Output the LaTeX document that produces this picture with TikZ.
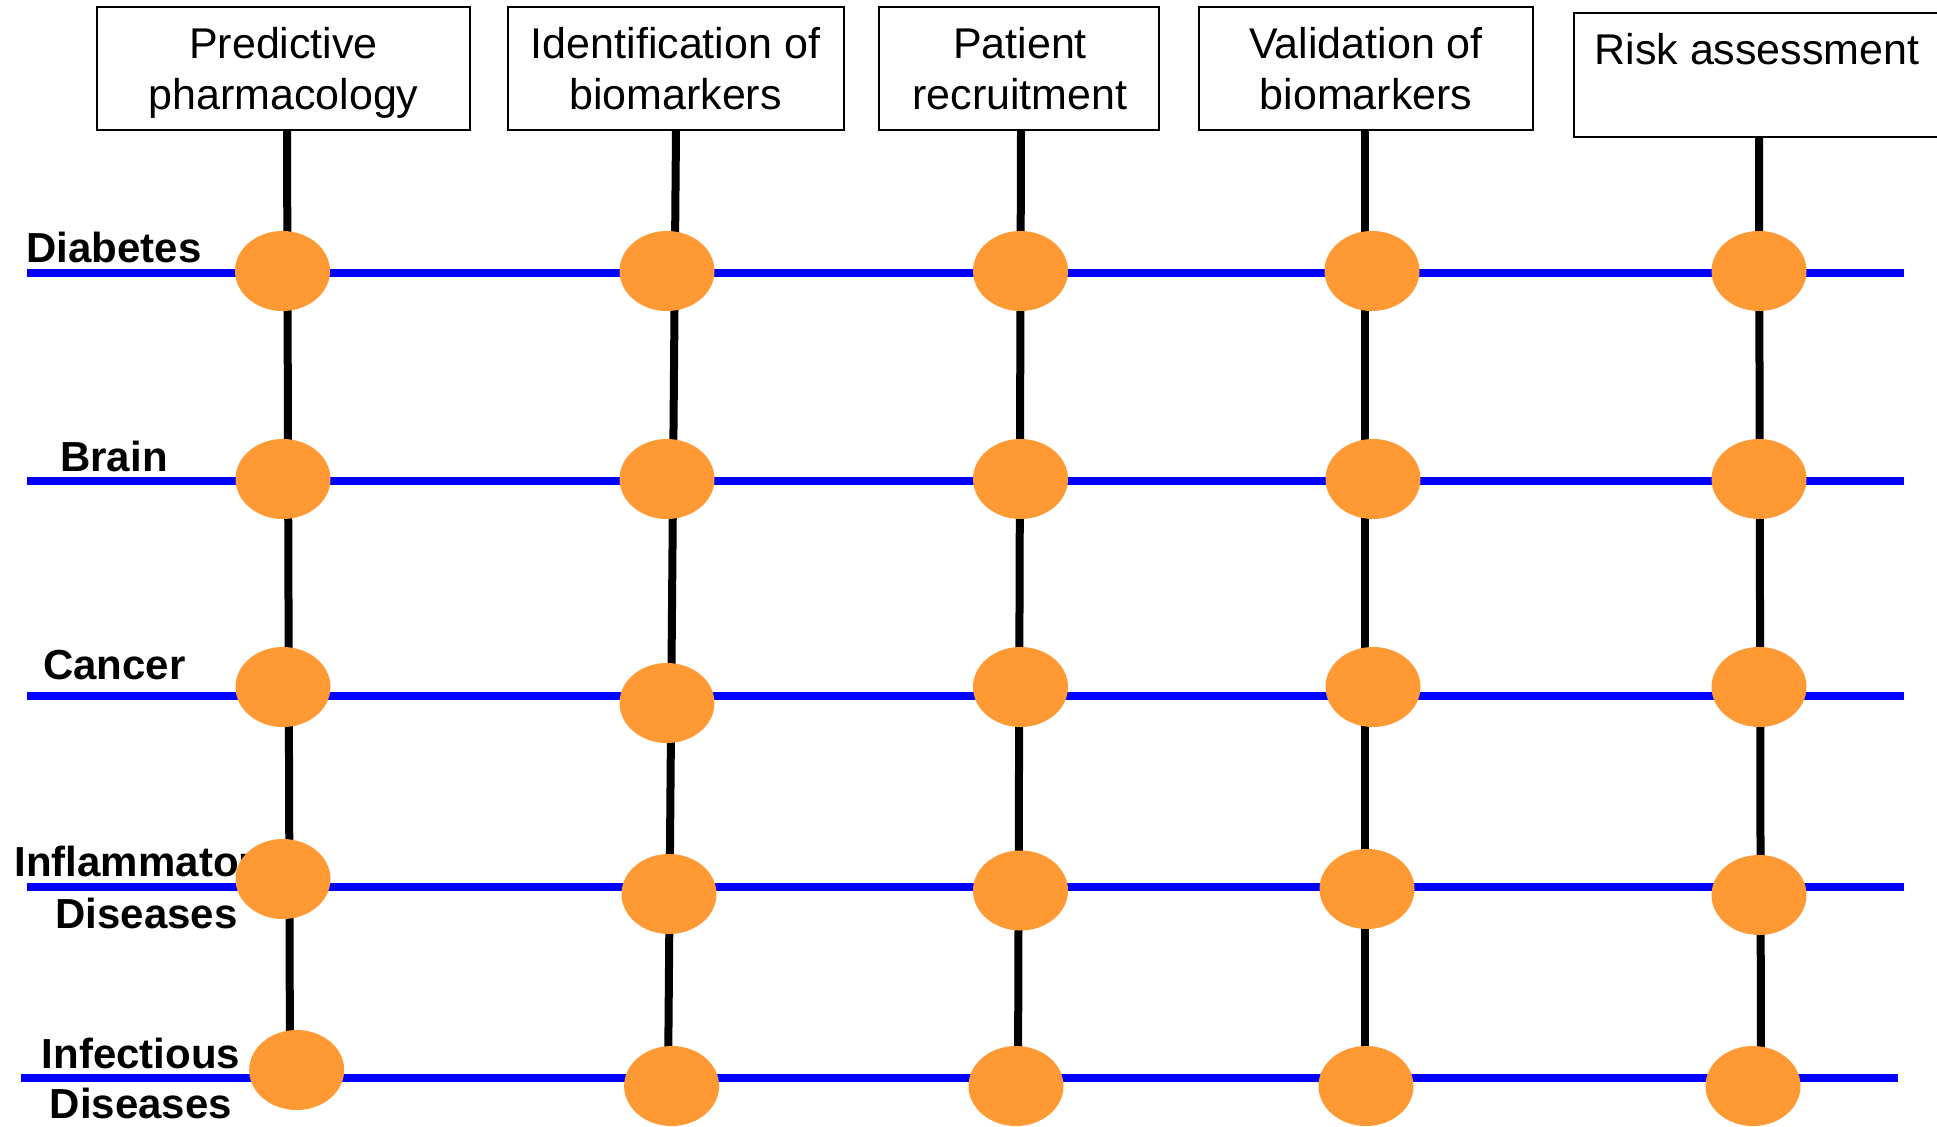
\documentclass[tikz,border=0pt]{standalone}
\usepackage{fontspec}
\usetikzlibrary{shapes.geometric}
\newfontfamily\boxfont{Liberation Sans}
\newfontfamily\labfont{Liberation Sans}
\definecolor{dotorange}{RGB}{255,153,51}
\definecolor{rowblue}{RGB}{0,0,255}
\begin{document}
\begin{tikzpicture}[x=0.5pt,y=-0.5pt,
  boxnode/.style={draw=black, line width=1pt, rectangle, inner sep=0pt, fill=white},
  boxtext/.style={font=\boxfont\fontsize{21.5pt}{25pt}\selectfont, anchor=base, inner sep=0pt},
  labtext/.style={font=\labfont\bfseries\fontsize{21pt}{25pt}\selectfont, anchor=base, inner sep=0pt},
  stage/.style={line width=4pt, draw=black},
  rowline/.style={line width=4pt, draw=rowblue},
  dot/.style={ellipse, fill=dotorange, draw=none, minimum width=47.5pt, minimum height=40pt, inner sep=0pt}]
\useasboundingbox (0,0) rectangle (1937,1127);
\clip (0,0) rectangle (1937,1127);
\fill[white] (0,0) rectangle (1937,1127);

% stage boxes
\node[boxnode, minimum width=186.5pt, minimum height=61.5pt] (b1) at (283.5,68.5) {};
\node[boxnode, minimum width=168pt, minimum height=61.5pt] (b2) at (675.5,68.5) {};
\node[boxnode, minimum width=140pt, minimum height=61.5pt] (b3) at (1018.5,68.5) {};
\node[boxnode, minimum width=167pt, minimum height=61.5pt] (b4) at (1366,68.5) {};
\node[boxnode, minimum width=185.5pt, minimum height=61.85pt] (b5) at (1759.5,75.3) {};

\node[boxtext] (b1t1) at (283.5,58.5) {Predictive};
\node[boxtext] (b1t2) at (283.5,110) {pharmacology};
\node[boxtext] (b2t1) at (675.5,58.5) {Identification of};
\node[boxtext] (b2t2) at (675.5,110) {biomarkers};
\node[boxtext] (b3t1) at (1020,58.5) {Patient};
\node[boxtext] (b3t2) at (1020,110) {recruitment};
\node[boxtext] (b4t1) at (1366,58.5) {Validation of};
\node[boxtext] (b4t2) at (1366,110) {biomarkers};
\node[boxtext] (b5t1) at (1757,64.5) {Risk assessment};

% vertical stage lines
\coordinate (s1a) at (287,130);  \coordinate (s1b) at (290,1070);
\coordinate (s2a) at (676,130);  \coordinate (s2b) at (668,1086);
\coordinate (s3a) at (1021,130); \coordinate (s3b) at (1018,1086);
\coordinate (s4a) at (1365,131); \coordinate (s4b) at (1365,1086);
\coordinate (s5a) at (1759,137); \coordinate (s5b) at (1761,1086);
\draw[stage] (s1a) -- (s1b);
\draw[stage] (s2a) -- (s2b);
\draw[stage] (s3a) -- (s3b);
\draw[stage] (s4a) -- (s4b);
\draw[stage] (s5a) -- (s5b);

% horizontal disease lines
\coordinate (r1a) at (27,273);  \coordinate (r1b) at (1904,273);
\coordinate (r2a) at (27,481);  \coordinate (r2b) at (1904,481);
\coordinate (r3a) at (27,696);  \coordinate (r3b) at (1904,696);
\coordinate (r4a) at (27,887);  \coordinate (r4b) at (1904,887);
\coordinate (r5a) at (21,1078); \coordinate (r5b) at (1898,1078);
\draw[rowline] (r1a) -- (r1b);
\draw[rowline] (r2a) -- (r2b);
\draw[rowline] (r3a) -- (r3b);
\draw[rowline] (r4a) -- (r4b);
\draw[rowline] (r5a) -- (r5b);

% labels
\node[labtext] (l1) at (114,262.7) {Diabetes};
\node[labtext] (l2) at (114,471.5) {Brain};
\node[labtext] (l3) at (114.5,679.5) {Cancer};
\node[labtext] (l4a) at (146.5,876.7) {Inflammatory};
\node[labtext] (l4b) at (146.5,928) {Diseases};
\node[labtext] (l5a) at (141,1068) {Infectious};
\node[labtext] (l5b) at (141,1118) {Diseases};

% intersection dots
\node[dot] (e11) at (282.5,271) {};
\node[dot] (e12) at (667,271) {};
\node[dot] (e13) at (1020.5,271) {};
\node[dot] (e14) at (1372,271) {};
\node[dot] (e15) at (1759,271) {};

\node[dot] (e21) at (283,479) {};
\node[dot] (e22) at (667,479) {};
\node[dot] (e23) at (1020.5,479) {};
\node[dot] (e24) at (1373,479) {};
\node[dot] (e25) at (1759,479) {};

\node[dot] (e31) at (283,687) {};
\node[dot] (e32) at (667,703) {};
\node[dot] (e33) at (1020.5,687) {};
\node[dot] (e34) at (1373,687) {};
\node[dot] (e35) at (1759,687) {};

\node[dot] (e41) at (283,879) {};
\node[dot] (e42) at (669,894) {};
\node[dot] (e43) at (1020.5,890.5) {};
\node[dot] (e44) at (1367,889) {};
\node[dot] (e45) at (1759,895) {};

\node[dot] (e51) at (296.7,1070) {};
\node[dot] (e52) at (671.6,1086) {};
\node[dot] (e53) at (1016,1086) {};
\node[dot] (e54) at (1366,1086) {};
\node[dot] (e55) at (1753,1086) {};
\end{tikzpicture}
\end{document}
